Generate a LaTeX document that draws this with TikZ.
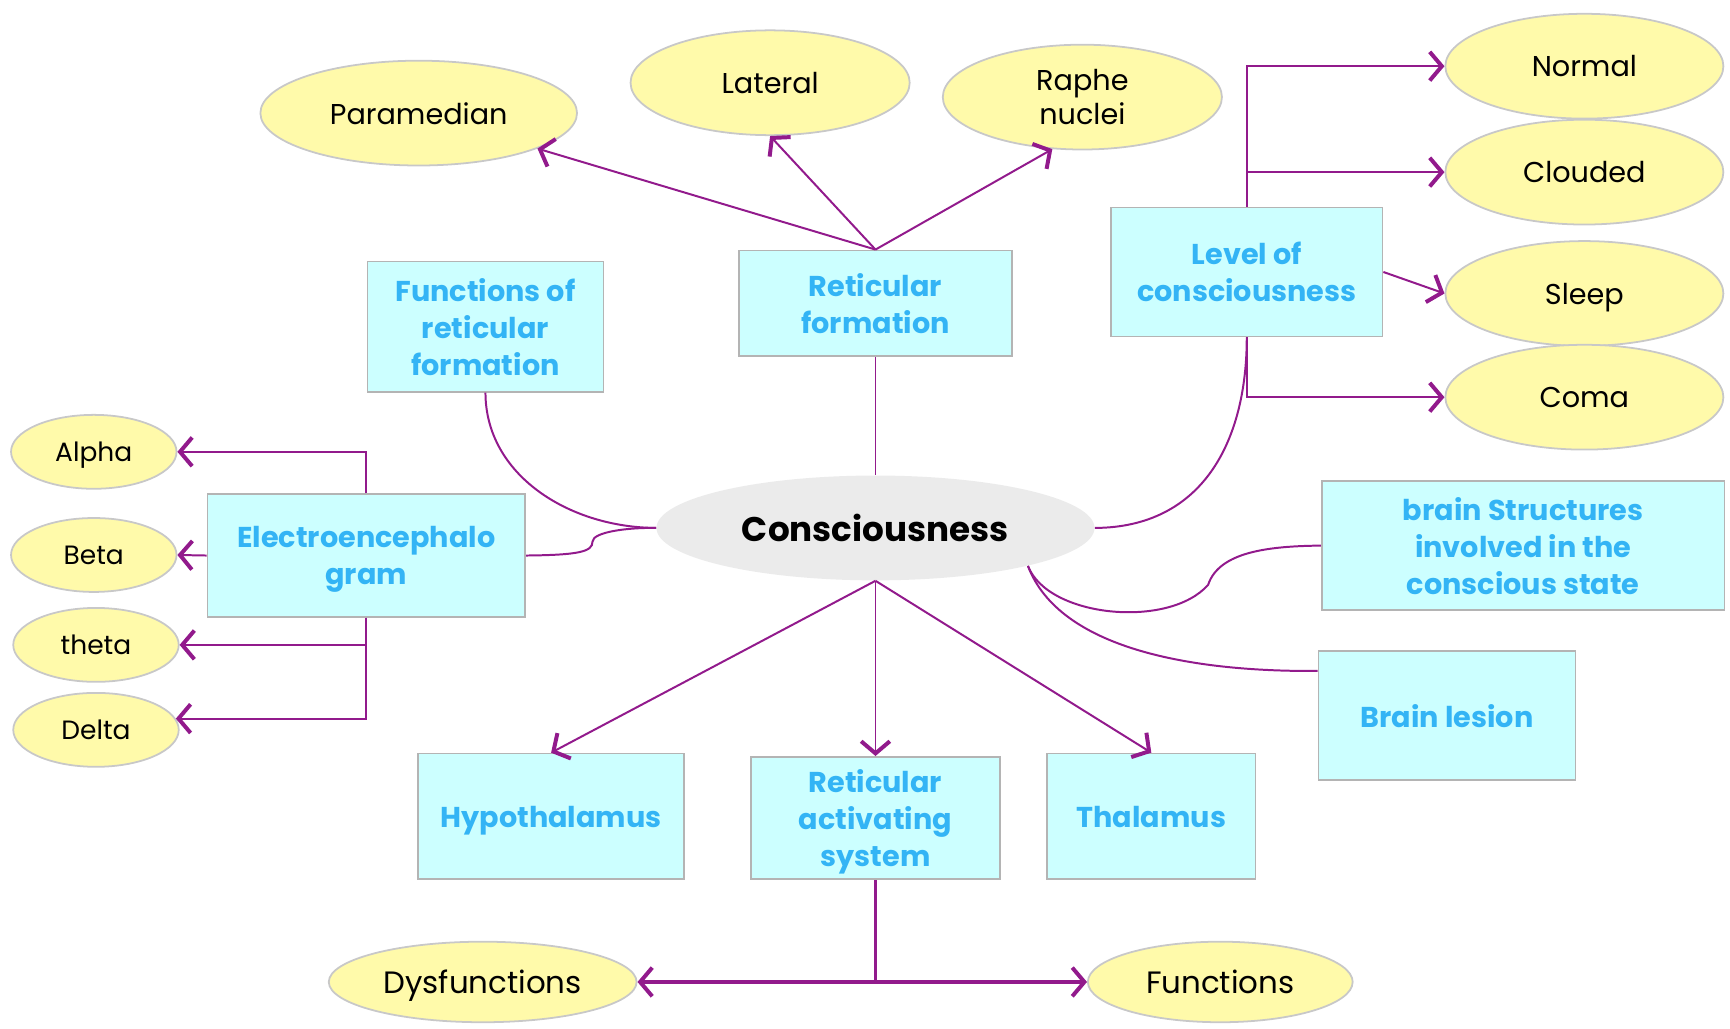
\documentclass[tikz,border=0pt]{standalone}
\usepackage{fontspec}
\setmainfont{Poppins}
\usetikzlibrary{arrows.meta,shapes.geometric}
\definecolor{conn}{HTML}{921A8C}
\definecolor{boxfill}{HTML}{CCFFFF}
\definecolor{boxline}{HTML}{B4B4B4}
\definecolor{ellfill}{HTML}{FFFAAA}
\definecolor{ellline}{HTML}{C8C8C8}
\definecolor{bluetxt}{HTML}{33B4F5}
\definecolor{centfill}{HTML}{EBEBEB}
\begin{document}
\begin{tikzpicture}[x=0.5pt,y=-0.5pt,
  box/.style={draw=boxline, line width=0.8pt, fill=boxfill, text=bluetxt,
    font=\bfseries\fontsize{13}{16.8}\selectfont, align=center, inner sep=0pt, text depth=0pt},
  ell/.style={ellipse, draw=ellline, line width=0.8pt, fill=ellfill, text=black,
    font=\fontsize{13}{15.5}\selectfont, align=center, inner sep=0pt, text depth=0pt},
  small/.style={font=\fontsize{12}{14}\selectfont},
  big/.style={font=\fontsize{14}{16}\selectfont},
  link/.style={draw=conn, line width=0.9pt},
  arr/.style={link, -{Straight Barb[length=5.5pt,width=13pt,line width=1.8pt]}},
  arrthick/.style={arr, line width=1.4pt}]
\useasboundingbox (0,0) rectangle (1568,932);

% central node
\node[ellipse, fill=centfill, inner sep=0pt, minimum width=198.5pt, minimum height=47.5pt,
  font=\bfseries\fontsize{15.5}{18}\selectfont] (cons) at (793.5,478.5) {Consciousness};

% boxes
\node[box, minimum width=107pt, minimum height=59pt] (funrf) at (440,296) {Functions of\\reticular\\formation};
\node[box, minimum width=123.5pt, minimum height=48pt] (rf) at (793.5,275) {Reticular\\formation};
\node[box, minimum width=123pt, minimum height=58.5pt] (lev) at (1130,246.5) {Level of\\consciousness};
\node[box, minimum width=144pt, minimum height=55.5pt] (eeg) at (332,503.5) {Electroencephalo\\gram};
\node[box, minimum width=182.5pt, minimum height=58.5pt] (bs) at (1380.5,494.5) {brain Structures\\involved in the\\conscious state};
\node[box, minimum width=116.5pt, minimum height=58.5pt] (bl) at (1311.5,648.5) {Brain lesion};
\node[box, minimum width=120.5pt, minimum height=57pt] (hyp) at (499.5,740) {Hypothalamus};
\node[box, minimum width=112.5pt, minimum height=55.5pt] (ras) at (793.5,741.5) {Reticular\\activating\\system};
\node[box, minimum width=94.5pt, minimum height=57pt] (thal) at (1043.5,740) {Thalamus};

% ellipses
\node[ell, minimum width=143.5pt, minimum height=47.5pt] (para) at (379.5,102.5) {Paramedian};
\node[ell, minimum width=126.5pt, minimum height=47.5pt] (lat) at (698,75) {Lateral};
\node[ell, minimum width=126.5pt, minimum height=47.5pt] (raphe) at (981,88) {Raphe\\nuclei};
\node[ell, minimum width=126pt, minimum height=47.5pt] (normal) at (1436,60) {Normal};
\node[ell, minimum width=126pt, minimum height=47.5pt] (cloud) at (1436,156) {Clouded};
\node[ell, minimum width=126pt, minimum height=47.5pt] (sleep) at (1436,266) {Sleep};
\node[ell, minimum width=126pt, minimum height=47.5pt] (coma) at (1436,360) {Coma};
\node[ell, small, minimum width=75pt, minimum height=33.5pt] (alpha) at (85,409.5) {Alpha};
\node[ell, small, minimum width=75pt, minimum height=33.5pt] (beta) at (85,503) {Beta};
\node[ell, small, minimum width=75pt, minimum height=33.5pt] (theta) at (87,584.5) {theta};
\node[ell, small, minimum width=75pt, minimum height=33.5pt] (delta) at (87,661.5) {Delta};
\node[ell, big, minimum width=139.5pt, minimum height=36.5pt] (dys) at (437.5,890) {Dysfunctions};
\node[ell, big, minimum width=120pt, minimum height=36.5pt] (func) at (1106,890) {Functions};

% reticular formation
\draw[arr] (rf.north) -- (para);
\draw[arr] (rf.north) -- (lat.south);
\draw[arr] (rf.north) -- (raphe.240);
\draw[link] (rf.south) -- (cons.north);

% functions of RF and EEG curves
\draw[link] (funrf.south) .. controls (440,430) and (515,478) .. (cons.west);
\draw[link] (eeg.east) .. controls (525,503) and (537,500) .. (537,491)
  .. controls (537,482) and (570,478) .. (cons.west);

% level of consciousness
\draw[link] (cons.east) .. controls (1090,478) and (1130,400) .. (lev.south);
\draw[arr] (lev.north) |- (normal.west);
\draw[arr] (lev.north) |- (cloud.west);
\draw[arr] (lev.east) -- (sleep.west);
\draw[arr] (lev.south) |- (coma.west);

% EEG waves
\draw[arr] (eeg.north) |- (alpha.east);
\draw[arr] (eeg.west) -- (beta.east);
\draw[arr] (eeg.south) |- (theta.east);
\draw[arr] (eeg.south) |- (delta.8);

% bottom
\draw[arr] (cons.south) -- (hyp.north);
\draw[arr] (cons.south) -- (ras.north);
\draw[arr] (cons.south) -- (thal.north);
\draw[arrthick] (ras.south) |- (dys.east);
\draw[arrthick] (ras.south) |- (func.west);

% right side curves
\draw[link] (cons.-14) .. controls (950,560) and (1060,570) .. (1095,530)
  .. controls (1105,500) and (1150,495) .. (bs.west);
\draw[link] (cons.-14) .. controls (960,588) and (1080,609) .. (bl.161);
\end{tikzpicture}
\end{document}
